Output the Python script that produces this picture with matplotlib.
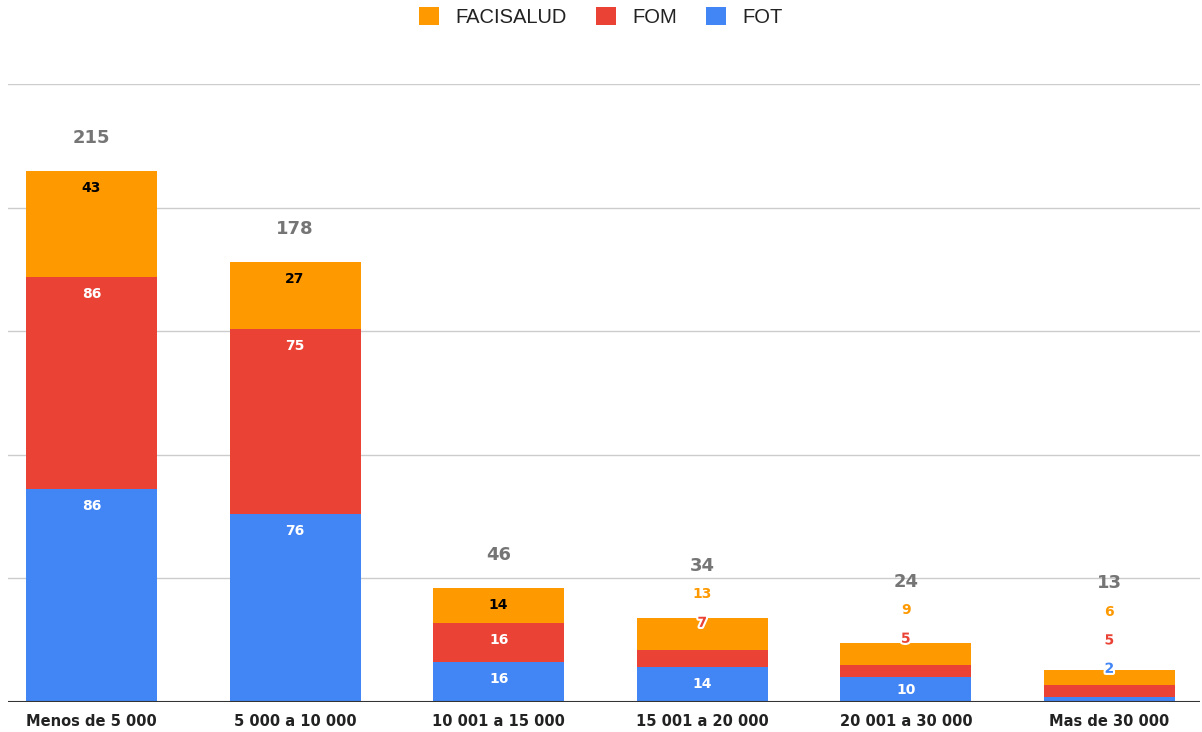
import matplotlib
matplotlib.use("Agg")
import matplotlib.pyplot as plt
import matplotlib.patheffects as pe
from matplotlib.patches import Patch

plt.rcParams['font.family'] = ['DejaVu Sans']

categories = ["Menos de 5 000", "5 000 a 10 000", "10 001 a 15 000",
              "15 001 a 20 000", "20 001 a 30 000", "Mas de 30 000"]
fot = [86, 76, 16, 14, 10, 2]
fom = [86, 75, 16, 7, 5, 5]
facisalud = [43, 27, 14, 13, 9, 6]
totals = [215, 178, 46, 34, 24, 13]

series = [("FOT", fot, "#4285F4", "white"),
          ("FOM", fom, "#EA4335", "white"),
          ("FACISALUD", facisalud, "#FF9900", "black")]

fig = plt.figure(figsize=(12.02, 7.32), dpi=100)
ax = fig.add_axes([8/1202, 30/732, 1192/1202, 618/732])
ax.set_ylim(0, 250)
ax.set_xlim(-0.41, 5.445)
px_per_unit = 618 / 250.0

for y in [50, 100, 150, 200, 250]:
    ax.axhline(y, color="#cccccc", lw=1, zorder=0)
ax.axhline(0, color="#333333", lw=1.5, zorder=3)

x = list(range(len(categories)))
width = 0.643
bottoms = [0] * len(categories)
for name, vals, color, tcol in series:
    ax.bar(x, vals, width, bottom=bottoms, color=color, zorder=2, label=name)
    bottoms = [b + v for b, v in zip(bottoms, vals)]

# labels
step = 28.5 / px_per_unit
first_offset = {3: -2.0, 4: 1.6, 5: 0.4}
for i in x:
    small = totals[i] < 40
    base = 0
    outside_pos = None
    for k, (name, vals, color, tcol) in enumerate(series):
        v = vals[i]
        seg_px = v * px_per_unit
        top = base + v
        inside = seg_px >= 24 and not (small and k > 0)
        if inside:
            off = min(17, seg_px / 2) / px_per_unit
            ax.text(i, top - off, str(v), ha="center", va="center",
                    fontsize=10, fontweight="bold", color=tcol, zorder=5)
        else:
            if outside_pos is None:
                outside_pos = bottoms[i] + first_offset.get(i, 0)
            else:
                outside_pos += step
            eff = [pe.withStroke(linewidth=3, foreground="white")] if name != "FACISALUD" else None
            ax.text(i, outside_pos, str(v), ha="center", va="center",
                    fontsize=10, fontweight="bold", color=color, zorder=5,
                    path_effects=eff)
        base = top
    if outside_pos is None:
        tpos = totals[i] + 33 / px_per_unit
    else:
        tpos = outside_pos + step
    ax.text(i, tpos, str(totals[i]), ha="center", va="center",
            fontsize=13, fontweight="bold", color="#757575", zorder=5)

ax.set_xticks(x)
ax.set_xticklabels(categories, fontsize=10.5, fontweight="bold", color="#222222")
ax.tick_params(axis="x", length=0, pad=9)
ax.set_yticks([])
for s in ax.spines.values():
    s.set_visible(False)

handles = [Patch(facecolor="#FF9900"), Patch(facecolor="#EA4335"), Patch(facecolor="#4285F4")]
fig.legend(handles, ["FACISALUD", "FOM", "FOT"], loc="center",
           bbox_to_anchor=(0.5, 1 - 17/732), ncol=3, frameon=False,
           prop={"family": "Liberation Sans", "size": 14.5},
           handlelength=1.0, handleheight=1.0, columnspacing=1.45,
           handletextpad=0.8, labelcolor="#222222")

fig.savefig("out.png", dpi=100)
